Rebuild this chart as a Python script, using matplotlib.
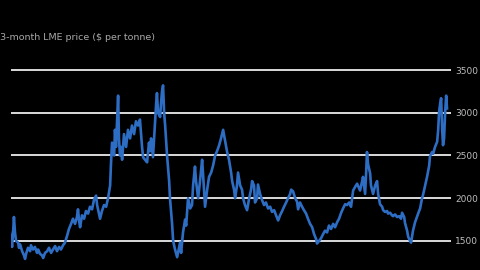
import matplotlib
matplotlib.use("Agg")
import matplotlib.pyplot as plt

# 3-month LME price, $ per tonne (decimal year, price)
dates = [
    2001.21, 2001.26, 2001.31, 2001.36, 2001.40, 2001.45, 2001.50, 2001.60, 2001.64, 2001.69,
    2001.79, 2001.88, 2001.93, 2001.98, 2002.07, 2002.17, 2002.21, 2002.31, 2002.40, 2002.50,
    2002.55, 2002.64, 2002.74, 2002.79, 2002.88, 2002.98, 2003.07, 2003.17, 2003.26, 2003.36,
    2003.45, 2003.55, 2003.64, 2003.74, 2003.83, 2003.93, 2004.02, 2004.12, 2004.21, 2004.31,
    2004.40, 2004.45, 2004.50, 2004.55, 2004.64, 2004.74, 2004.83, 2004.93, 2005.02, 2005.12,
    2005.21, 2005.31, 2005.36, 2005.45, 2005.50, 2005.59, 2005.69, 2005.79, 2005.88, 2005.98,
    2006.02, 2006.07, 2006.17, 2006.21, 2006.26, 2006.31, 2006.36, 2006.40, 2006.45, 2006.50,
    2006.55, 2006.64, 2006.74, 2006.83, 2006.93, 2007.02, 2007.12, 2007.21, 2007.31, 2007.40,
    2007.50, 2007.55, 2007.64, 2007.74, 2007.83, 2007.88, 2007.93, 2008.02, 2008.12, 2008.17,
    2008.21, 2008.26, 2008.36, 2008.40, 2008.45, 2008.50, 2008.55, 2008.60, 2008.69, 2008.79,
    2008.83, 2008.93, 2008.98, 2009.07, 2009.17, 2009.26, 2009.31, 2009.36, 2009.45, 2009.55,
    2009.60, 2009.69, 2009.79, 2009.88, 2009.93, 2010.02, 2010.07, 2010.17, 2010.26, 2010.36,
    2010.40, 2010.50, 2010.60, 2010.69, 2010.79, 2010.88, 2010.98, 2011.07, 2011.17, 2011.26,
    2011.36, 2011.45, 2011.55, 2011.64, 2011.74, 2011.79, 2011.88, 2011.93, 2012.02, 2012.07,
    2012.17, 2012.26, 2012.31, 2012.40, 2012.50, 2012.60, 2012.69, 2012.74, 2012.83, 2012.88,
    2012.98, 2013.02, 2013.12, 2013.21, 2013.31, 2013.40, 2013.50, 2013.60, 2013.69, 2013.79,
    2013.88, 2013.98, 2014.07, 2014.17, 2014.26, 2014.36, 2014.45, 2014.55, 2014.60, 2014.69,
    2014.79, 2014.88, 2014.93, 2015.02, 2015.12, 2015.21, 2015.31, 2015.40, 2015.50, 2015.60,
    2015.69, 2015.79, 2015.83, 2015.93, 2016.02, 2016.12, 2016.21, 2016.31, 2016.40, 2016.50,
    2016.60, 2016.69, 2016.79, 2016.88, 2016.98, 2017.07, 2017.17, 2017.26, 2017.36, 2017.45,
    2017.55, 2017.64, 2017.74, 2017.83, 2017.88, 2017.98, 2018.02, 2018.12, 2018.17, 2018.21,
    2018.26, 2018.36, 2018.40, 2018.50, 2018.60, 2018.69, 2018.74, 2018.83, 2018.93, 2018.98,
    2019.07, 2019.17, 2019.21, 2019.31, 2019.40, 2019.45, 2019.55, 2019.64, 2019.74, 2019.83,
    2019.88, 2019.98, 2020.02, 2020.12, 2020.17, 2020.26, 2020.31, 2020.40, 2020.50, 2020.60,
    2020.69, 2020.74, 2020.83, 2020.88, 2020.98, 2021.07, 2021.17, 2021.21, 2021.31, 2021.36,
    2021.45, 2021.55, 2021.60, 2021.64, 2021.69, 2021.74, 2021.79, 2021.83, 2021.88, 2021.93,
    2021.98, 2022.02,
]
prices = [
    1600, 1520, 1430, 1600, 1780, 1600, 1500, 1480, 1420, 1460,
    1380, 1330, 1290, 1350, 1420, 1380, 1450, 1400, 1430, 1360,
    1400, 1350, 1330, 1300, 1360, 1380, 1420, 1360, 1400, 1440,
    1380, 1430, 1400, 1450, 1480, 1560, 1640, 1700, 1760, 1700,
    1780, 1870, 1740, 1660, 1800, 1760, 1850, 1820, 1900, 1870,
    1980, 2030, 1920, 1820, 1760, 1850, 1920, 1900, 2000, 2150,
    2400, 2650, 2500, 2800, 2600, 2900, 3200, 2700, 2500, 2600,
    2450, 2750, 2600, 2800, 2700, 2850, 2750, 2900, 2850, 2920,
    2600, 2480, 2450, 2420, 2650, 2550, 2700, 2480, 2900, 3100,
    3230, 3000, 2950, 3100, 3250, 3320, 3000, 2850, 2500, 2200,
    2000, 1700, 1500, 1400, 1310, 1420, 1480, 1360, 1600, 1750,
    1680, 2000, 1880, 1920, 2150, 2370, 2200, 2000, 2200, 2450,
    2300, 1900, 2100, 2250, 2300, 2380, 2500, 2550, 2620, 2700,
    2800, 2680, 2540, 2450, 2300, 2200, 2100, 2000, 2150, 2300,
    2150, 2100, 2000, 1920, 1860, 2000, 2100, 2200, 2150, 1950,
    2000, 2160, 2050, 1980, 1920, 1950, 1880, 1900, 1840, 1860,
    1800, 1740, 1800, 1850, 1900, 1950, 2000, 2050, 2100, 2080,
    2000, 1960, 1870, 1950, 1900, 1860, 1820, 1760, 1700, 1660,
    1580, 1520, 1470, 1500, 1530, 1580, 1620, 1600, 1680, 1640,
    1700, 1660, 1720, 1760, 1830, 1880, 1930, 1920, 1950, 1900,
    2090, 2130, 2170, 2120, 2090, 2200, 2250, 2050, 2300, 2540,
    2400, 2290, 2150, 2050, 2150, 2200, 2050, 1930, 1900, 1860,
    1840, 1850, 1820, 1830, 1800, 1790, 1810, 1780, 1790, 1760,
    1830, 1780, 1710, 1620, 1550, 1500, 1480, 1620, 1720, 1790,
    1850, 1880, 2000, 2040, 2150, 2250, 2380, 2490, 2540, 2520,
    2600, 2660, 2800, 3000, 3100, 3170, 2800, 2620, 2700, 3000,
    3200, 3050,
]
yticks = [1500, 2000, 2500, 3000, 3500]

fig = plt.figure(figsize=(4.8, 2.7), dpi=100, facecolor="black")
ax = fig.add_axes([11 / 480, 0, 440 / 480, 210 / 270], facecolor="black")

for v in yticks:
    ax.axhline(v, color="white", lw=1.2, zorder=1)
ax.plot(dates, prices, color="#2d6ec4", lw=1.9, zorder=2, solid_joinstyle="round")

ax.set_xlim(2001.26, 2022.21)
ax.set_ylim(1160, 3617)
ax.set_yticks(yticks)
ax.set_yticklabels([str(v) for v in yticks])
ax.yaxis.tick_right()
ax.tick_params(axis="y", length=0, pad=3, labelsize=6.5, labelcolor="#bdbdbd")
ax.set_xticks([])
for s in ax.spines.values():
    s.set_visible(False)

fig.text(0.0, 1 - 38 / 270, "3-month LME price ($ per tonne)", color="#a8a8a8",
         fontsize=6.8, va="center", ha="left")

fig.savefig("out.png", dpi=100, facecolor="black")
